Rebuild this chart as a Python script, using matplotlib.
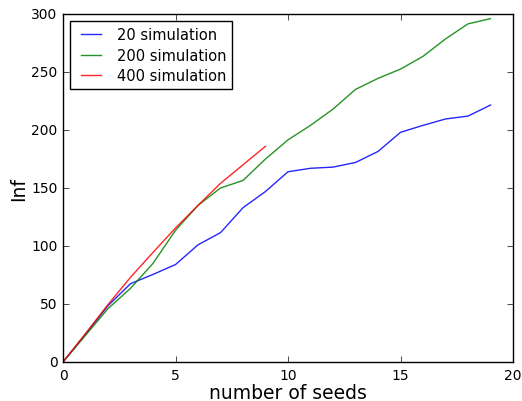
import numpy as np
import matplotlib
matplotlib.use("Agg")
import matplotlib.pyplot as plt

plt.style.use('classic')

# influence vs number of seeds for different simulation counts
seeds_20 = list(range(20))
inf_20 = [0, 24, 48.5, 67.5, 75.5, 84, 101, 111.5, 133, 147, 164, 167, 168, 172,
          181.5, 198, 204, 209.5, 212, 221.5]

seeds_200 = list(range(20))
inf_200 = [0, 23, 46, 63.5, 85, 113.5, 135, 150, 156.5, 175, 191.5, 204, 218,
           235, 244.5, 252.5, 263.5, 278.5, 291.5, 296]

seeds_400 = list(range(10))
inf_400 = [0, 24.5, 49.5, 73, 94.5, 115.5, 135, 154, 170, 186]

fig = plt.figure(figsize=(5.22, 4.02), dpi=100, facecolor='white')
ax = fig.add_axes([63 / 522, 39 / 402, 450 / 522, 348 / 402])

ax.plot(seeds_20, inf_20, 'b', label='20 simulation', alpha=0.85)
ax.plot(seeds_200, inf_200, 'g', label='200 simulation', alpha=0.85)
ax.plot(seeds_400, inf_400, 'r', label='400 simulation', alpha=0.85)

ax.set_xlim(0, 20)
ax.set_ylim(0, 300)
ax.set_xticks([0, 5, 10, 15, 20])
ax.set_yticks([0, 50, 100, 150, 200, 250, 300])
ax.tick_params(labelsize=10)
ax.set_xlabel('number of seeds', fontsize=13.5, labelpad=1)
ax.set_ylabel('Inf', fontsize=13.5, labelpad=2)

ax.legend(loc='upper left', fontsize=10.5, labelspacing=0.38,
          borderaxespad=0.5)

fig.savefig('out.png', dpi=100, facecolor='white')
